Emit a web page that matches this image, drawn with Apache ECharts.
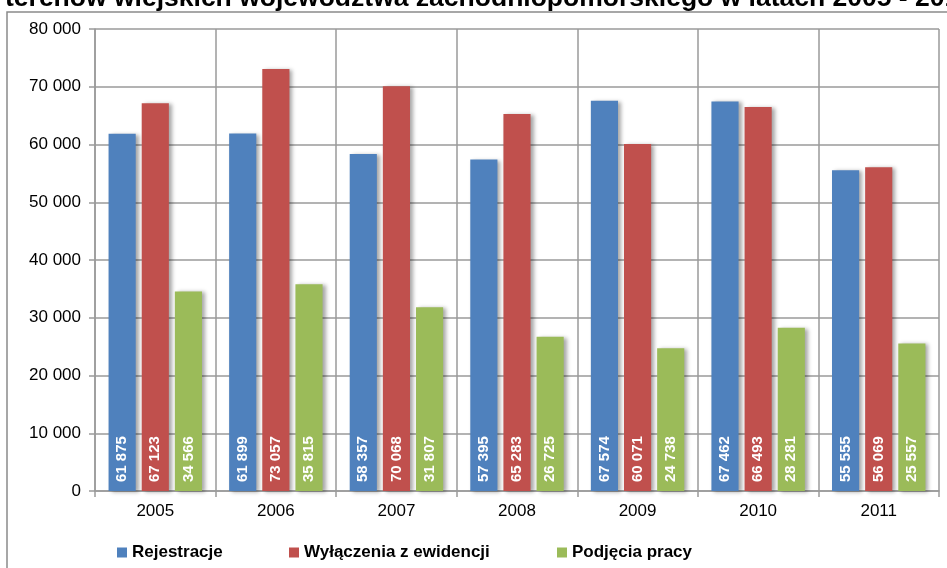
<!DOCTYPE html>
<html>
<head>
<meta charset="utf-8">
<script src="https://cdn.jsdelivr.net/npm/echarts@6/dist/echarts.min.js"></script>
<style>html,body{margin:0;padding:0;background:#fff}#c{width:947px;height:568px}</style>
</head>
<body>
<div id="c"></div>
<script>
var titleText = 'terenów wiejskich województwa zachodniopomorskiego w latach 2005 - 2011';
var years = ['2005', '2006', '2007', '2008', '2009', '2010', '2011'];
var seriesNames = ['Rejestracje', 'Wyłączenia z ewidencji', 'Podjęcia pracy'];
var rejestracje = [61875, 61899, 58357, 57395, 67574, 67462, 55555];
var wylaczenia = [67123, 73057, 70068, 65283, 60071, 66493, 56069];
var podjecia = [34566, 35815, 31807, 26725, 24738, 28281, 25557];
var colors = ['#4F81BD', '#C0504D', '#9BBB59'];
var legendLefts = [117, 289, 557];

function fmt(v) {
  return String(v).replace(/\B(?=(\d{3})+(?!\d))/g, ' ');
}

var FONT = '"Liberation Sans", Arial, sans-serif';
var grid = '#9a9a9a';

function mkSeries(name, data, color) {
  return {
    name: name,
    type: 'bar',
    data: data,
    barGap: '22%',
    barCategoryGap: '22.5%',
    itemStyle: {
      color: color,
      shadowColor: 'rgba(0,0,0,0.35)',
      shadowBlur: 4,
      shadowOffsetX: 3,
      shadowOffsetY: 1
    },
    label: {
      show: true,
      position: 'insideBottom',
      rotate: 90,
      align: 'left',
      verticalAlign: 'middle',
      distance: 9,
      color: '#fff',
      fontFamily: FONT,
      fontWeight: 'bold',
      fontSize: 15,
      formatter: function (p) { return fmt(p.value); }
    }
  };
}

var chart = echarts.init(document.getElementById('c'), null, {renderer: 'canvas'});
var dataArr = [rejestracje, wylaczenia, podjecia];
var legends = seriesNames.map(function (n, i) {
  return {
    data: [n],
    left: legendLefts[i],
    top: 544,
    padding: 0,
    icon: 'rect',
    itemWidth: 10,
    itemHeight: 10,
    textStyle: {fontFamily: FONT, fontWeight: 'bold', fontSize: 17, color: '#000'}
  };
});

chart.setOption({
  animation: false,
  color: colors,
  title: {
    text: titleText,
    left: 5,
    top: -15,
    padding: 0,
    textStyle: {fontFamily: FONT, fontWeight: 'bold', fontSize: 26.5, color: '#000'}
  },
  graphic: [{
    type: 'rect',
    shape: {x: 7, y: 12, width: 1000, height: 1000},
    style: {fill: null, stroke: '#8a8a8a', lineWidth: 1.5},
    z: -1
  }],
  legend: legends,
  grid: {left: 95, right: 8, top: 29, bottom: 77, containLabel: false},
  xAxis: {
    type: 'category',
    data: years,
    axisLine: {lineStyle: {color: grid, width: 1.5}},
    axisTick: {show: true, length: 6, lineStyle: {color: grid, width: 1.5}},
    splitLine: {show: true, interval: 0, lineStyle: {color: grid, width: 1.5}},
    axisLabel: {fontFamily: FONT, fontSize: 17, color: '#000', margin: 12}
  },
  yAxis: {
    type: 'value',
    min: 0,
    max: 80000,
    interval: 10000,
    axisLine: {show: true, lineStyle: {color: grid, width: 1.5}},
    axisTick: {show: true, length: 6, lineStyle: {color: grid, width: 1.5}},
    splitLine: {show: true, lineStyle: {color: grid, width: 1.5}},
    axisLabel: {fontFamily: FONT, fontSize: 17, color: '#000', margin: 14, formatter: fmt}
  },
  series: seriesNames.map(function (n, i) { return mkSeries(n, dataArr[i], colors[i]); })
});
</script>
</body>
</html>
